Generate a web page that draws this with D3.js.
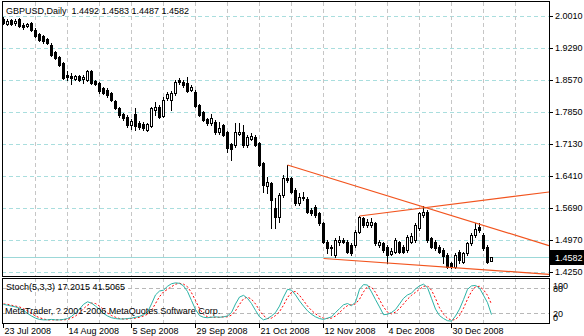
<!DOCTYPE html>
<html>
<head>
<meta charset="utf-8">
<script src="https://cdn.jsdelivr.net/npm/d3@7"></script>
<style>
  html, body { margin: 0; padding: 0; background: #fff; }
  svg { display: block; }
  text { font-family: "Liberation Sans", Arial, sans-serif; font-size: 9px; white-space: pre; }
</style>
</head>
<body>
<svg id="chart" width="584" height="336"></svg>
<script>
// GBPUSD daily candles, one entry per trading day
const symbolName = "GBPUSD,Daily";
const opens = [1.995,1.983,1.992,1.9845,1.9943,1.9815,1.9785,1.9853,1.9703,1.9605,
  1.9553,1.9493,1.9365,1.92,1.908,1.8953,1.869,1.8668,1.86,1.8653,
  1.8585,1.8578,1.8765,1.854,1.8503,1.839,1.8353,1.8278,1.809,1.794,
  1.7805,1.7745,1.7558,1.7798,1.7595,1.7573,1.7445,1.7543,1.7895,1.797,
  1.7768,1.8158,1.812,1.827,1.857,1.8533,1.8495,1.8345,1.8308,1.8008,
  1.7843,1.7693,1.7595,1.7633,1.7393,1.7558,1.7393,1.7123,1.7108,1.7363,
  1.7408,1.7108,1.725,1.7295,1.7145,1.6695,1.6185,1.6245,1.5683,1.5495,
  1.5983,1.6358,1.6358,1.6095,1.5795,1.5908,1.5893,1.5645,1.572,1.557,
  1.5345,1.4933,1.4783,1.4633,1.4933,1.497,1.4933,1.4858,1.4858,1.5158,
  1.5458,1.5308,1.5308,1.5345,1.4858,1.4895,1.482,1.4663,1.4708,1.4918,
  1.482,1.4745,1.4933,1.497,1.5233,1.5533,1.5608,1.5008,1.4933,1.482,
  1.4745,1.4633,1.4445,1.437,1.4708,1.4483,1.467,1.4895,1.5083,1.527,
  1.5083,1.482,1.4492];
const highs = [1.9995,1.9935,1.995,1.9935,1.9965,1.9845,1.986,1.9883,1.9733,1.9635,
  1.9583,1.9523,1.9395,1.923,1.911,1.8983,1.8765,1.872,1.8683,1.869,
  1.8675,1.8788,1.8795,1.857,1.8533,1.842,1.8383,1.8308,1.812,1.797,
  1.7835,1.7775,1.7685,1.7933,1.764,1.7633,1.761,1.797,1.8083,1.8,
  1.818,1.8293,1.8315,1.857,1.8623,1.857,1.8645,1.8458,1.8345,1.8038,
  1.7873,1.7723,1.7798,1.7663,1.7633,1.7588,1.7423,1.7153,1.7595,1.7595,
  1.7558,1.7333,1.737,1.7333,1.7175,1.6725,1.6395,1.6275,1.5908,1.602,
  1.6433,1.6658,1.6395,1.6133,1.602,1.6058,1.593,1.5683,1.5758,1.5608,
  1.5383,1.497,1.4858,1.5008,1.506,1.5008,1.497,1.4895,1.5195,1.551,
  1.5495,1.5435,1.5458,1.5383,1.497,1.4933,1.4858,1.4783,1.5008,1.4955,
  1.4858,1.5083,1.512,1.5345,1.5608,1.5743,1.5645,1.5045,1.497,1.4858,
  1.4783,1.467,1.4483,1.467,1.4745,1.4708,1.4933,1.512,1.5345,1.5345,
  1.512,1.4858,1.4583];
const lows = [1.983,1.9808,1.98,1.9815,1.9755,1.9725,1.9755,1.968,1.953,1.9455,
  1.941,1.938,1.911,1.9035,1.8885,1.8585,1.8578,1.848,1.857,1.8555,
  1.8503,1.8555,1.848,1.845,1.8285,1.8248,1.8195,1.8105,1.791,1.7745,
  1.767,1.752,1.7475,1.7445,1.7475,1.7445,1.7415,1.7513,1.7783,1.7715,
  1.773,1.812,1.7895,1.824,1.848,1.842,1.8293,1.8315,1.7963,1.7753,
  1.764,1.7565,1.7565,1.7363,1.7363,1.7303,1.6958,1.677,1.707,1.7333,
  1.707,1.707,1.722,1.7078,1.6628,1.6058,1.602,1.5233,1.5233,1.5383,
  1.5945,1.6283,1.602,1.5758,1.5758,1.587,1.557,1.5533,1.5495,1.5308,
  1.4895,1.467,1.4633,1.4595,1.4858,1.4895,1.467,1.4633,1.482,1.512,
  1.527,1.527,1.527,1.4858,1.482,1.4708,1.4445,1.4633,1.467,1.467,
  1.467,1.4708,1.4895,1.4933,1.5195,1.5495,1.4933,1.4783,1.4745,1.467,
  1.4445,1.4348,1.4333,1.4333,1.4445,1.4445,1.4633,1.4858,1.5045,1.5158,
  1.4745,1.4445,1.4487];
const closes = [1.9853,1.9905,1.983,1.9905,1.9778,1.977,1.983,1.9703,1.9553,1.9478,
  1.944,1.9403,1.914,1.9065,1.8915,1.8615,1.8645,1.8615,1.8653,1.8578,
  1.8645,1.8765,1.8503,1.848,1.8315,1.8278,1.8225,1.8128,1.794,1.7775,
  1.7715,1.7558,1.7648,1.7543,1.752,1.7498,1.758,1.7933,1.797,1.7745,
  1.812,1.8248,1.827,1.8533,1.8518,1.8458,1.8323,1.842,1.7993,1.7783,
  1.767,1.7595,1.7708,1.7393,1.7498,1.7333,1.7048,1.701,1.7393,1.7393,
  1.7108,1.7295,1.731,1.7108,1.6658,1.6208,1.6283,1.587,1.5495,1.5983,
  1.6358,1.632,1.6058,1.5795,1.5945,1.5945,1.5608,1.557,1.5533,1.5345,
  1.4933,1.4783,1.482,1.497,1.497,1.4933,1.4708,1.467,1.5158,1.548,
  1.5308,1.5383,1.5383,1.4895,1.4933,1.4745,1.4633,1.4723,1.497,1.4708,
  1.4708,1.5045,1.5068,1.5308,1.557,1.5608,1.497,1.482,1.4783,1.4708,
  1.4618,1.437,1.437,1.4633,1.452,1.467,1.4895,1.5083,1.5218,1.5195,
  1.4783,1.4483,1.4582];

// Stochastic oscillator (5,3,3): main and signal lines
const stochMain = [41,39,37,35,32,27,20,14,9,6, 5,5,6,5,5,6,8,13,21,30,
  41,47,44,37,29,20,14,10,8,7, 7,8,9,11,13,17,23,42,63,72,
  74,83,89,91,90,84,71,50,29,15, 11,10,11,12,11,12,14,22,42,58,
  62,55,43,27,12,5,8,14,22,37, 58,76,74,63,49,37,26,18,12,8,
  6,9,12,22,31,40,43,38,46,76, 87,86,70,52,35,17,18,22,29,42,
  55,63,67,77,84,88,80,55,30,15, 8,3,2,14,30,52,76,84,85,79,
  62,45,17.2015];
const stochSignal = [42,41,39,37,35,31,26,20,14,10, 7,5,5,5,5,5,6,9,14,21,
  31,39,44,43,37,29,21,15,11,8, 7,7,8,9,11,14,18,27,43,59,
  70,76,82,88,90,88,82,68,50,31, 18,12,11,11,11,12,12,16,26,41,
  54,58,53,42,27,15,8,9,15,24, 39,57,69,71,62,50,37,27,19,13,
  9,8,9,14,22,31,38,40,42,53, 70,83,81,69,52,35,23,19,23,31,
  42,53,62,69,76,83,84,74,55,33, 18,9,4,6,15,32,53,71,82,83,
  75,62,41.5065];
const stochLevels = [80, 20];
const stochScaleLabels = ["100", "80", "20", "0"];

// Price axis and date axis
const priceTicks = [2.0010, 1.9290, 1.8570, 1.7850, 1.7130, 1.6410, 1.5690, 1.4970, 1.4250];
const dateTickBars = [0, 16, 32, 48, 64, 80, 96, 112];
const dateLabels = ["23 Jul 2008", "14 Aug 2008", "5 Sep 2008", "29 Sep 2008",
  "21 Oct 2008", "12 Nov 2008", "4 Dec 2008", "30 Dec 2008"];

// Trend lines: start point and a second point, drawn as rays to the right
const trendStart = [71, 89, 80];
const trendStartPrice = [1.6658, 1.551, 1.4554];
const trendThrough = [119, 105, 112];
const trendThroughPrice = [1.5328, 1.5692, 1.4352];

const copyright = "MetaTrader, ? 2001-2006 MetaQuotes Software Corp.";

// ---- layout ----
const L = 2, R = 549;
const mainTop = 2, mainBot = 276;
const stTop = 278, stBot = 323;
const last = closes.length - 1;
const fontFam = "\"Liberation Sans\", Arial, sans-serif";

const svg = d3.select("#chart");
const x = d3.scaleLinear().domain([-0.25, 136.5]).range([L, R]);
const y = d3.scaleLinear().domain([1.416, 2.0325]).range([mainBot, mainTop]);
const ys = d3.scaleLinear().domain([0, 100]).range([322, 279]);
const crisp = v => Math.round(v) + 0.5;

svg.append("rect").attr("width", 584).attr("height", 336).attr("fill", "#fff");

const defs = svg.append("defs");
defs.append("clipPath").attr("id", "clipMain").append("rect")
  .attr("x", L + 1).attr("y", mainTop + 1).attr("width", R - L - 1).attr("height", mainBot - mainTop - 1);
defs.append("clipPath").attr("id", "clipStoch").append("rect")
  .attr("x", L + 1).attr("y", stTop + 1).attr("width", R - L - 1).attr("height", stBot - stTop - 1);

// ---- grid ----
const grid = svg.append("g");
grid.selectAll("line.hg").data(priceTicks).join("line")
  .attr("x1", L).attr("x2", R)
  .attr("y1", d => crisp(y(d))).attr("y2", d => crisp(y(d)))
  .attr("stroke", "#a9dede").attr("stroke-dasharray", "4,3");
const vBars = d3.range(8, 136, 8);
grid.selectAll("line.vg").data(vBars).join("line")
  .attr("x1", d => x(d) + 0.5).attr("x2", d => x(d) + 0.5)
  .attr("y1", mainTop).attr("y2", mainBot)
  .attr("stroke", "#c6c6c6").attr("stroke-dasharray", "4,3");
grid.selectAll("line.vs").data(vBars).join("line")
  .attr("x1", d => x(d) + 0.5).attr("x2", d => x(d) + 0.5)
  .attr("y1", stTop).attr("y2", stBot)
  .attr("stroke", "#c6c6c6").attr("stroke-dasharray", "4,3");
grid.selectAll("line.lv").data(stochLevels).join("line")
  .attr("x1", L).attr("x2", R)
  .attr("y1", d => crisp(ys(d))).attr("y2", d => crisp(ys(d)))
  .attr("stroke", "#b8b8b8").attr("stroke-dasharray", "4,3");

// ---- main panel ----
const main = svg.append("g").attr("clip-path", "url(#clipMain)");

// bid line at the last close
main.append("line")
  .attr("x1", L).attr("x2", R)
  .attr("y1", crisp(y(closes[last]))).attr("y2", crisp(y(closes[last])))
  .attr("stroke", "#9cd8d8");

const bars = d3.range(closes.length).map(i => ({
  i, o: opens[i], h: highs[i], l: lows[i], c: closes[i]
}));

const candle = main.selectAll("g.candle").data(bars).join("g");
candle.append("line")
  .attr("x1", d => x(d.i) + 0.5).attr("x2", d => x(d.i) + 0.5)
  .attr("y1", d => Math.round(y(d.h))).attr("y2", d => Math.round(y(d.l)) + 1)
  .attr("stroke", "#000");
candle.each(function(d) {
  const g = d3.select(this);
  const top = Math.round(y(Math.max(d.o, d.c)));
  const bot = Math.round(y(Math.min(d.o, d.c)));
  const cx = x(d.i);
  if (d.c >= d.o) {
    g.append("rect")
      .attr("x", cx - 0.5).attr("y", top + 0.5)
      .attr("width", 2).attr("height", Math.max(bot - top, 1))
      .attr("fill", "#fff").attr("stroke", "#000");
  } else {
    g.append("rect")
      .attr("x", cx - 1).attr("y", top)
      .attr("width", 3).attr("height", Math.max(bot - top + 1, 1))
      .attr("fill", "#000");
  }
});

// trend lines
const xEnd = x.domain()[1];
const trends = trendStart.map((b, k) => {
  const slope = (trendThroughPrice[k] - trendStartPrice[k]) / (trendThrough[k] - b);
  return { b1: b, p1: trendStartPrice[k], b2: xEnd, p2: trendStartPrice[k] + slope * (xEnd - b) };
});
main.selectAll("line.trend").data(trends).join("line")
  .attr("x1", d => x(d.b1) + 0.5).attr("y1", d => y(d.p1))
  .attr("x2", d => x(d.b2)).attr("y2", d => y(d.p2))
  .attr("stroke", "#f2541e").attr("stroke-width", 1.2);

// ---- stochastic panel ----
const st = svg.append("g").attr("clip-path", "url(#clipStoch)");
const stLine = d3.line().x((d, i) => x(i) + 0.5).y(d => ys(d));
st.append("path").datum(stochSignal).attr("d", stLine)
  .attr("fill", "none").attr("stroke", "#ff0000").attr("stroke-dasharray", "2,2");
st.append("path").datum(stochMain).attr("d", stLine)
  .attr("fill", "none").attr("stroke", "#2bb3a6").attr("stroke-width", 1);

// ---- frames ----
svg.append("rect").attr("x", L + 0.5).attr("y", mainTop - 0.5)
  .attr("width", R - L).attr("height", mainBot - mainTop + 1)
  .attr("fill", "none").attr("stroke", "#000");
svg.append("rect").attr("x", L + 0.5).attr("y", stTop + 0.5)
  .attr("width", R - L).attr("height", stBot - stTop)
  .attr("fill", "none").attr("stroke", "#000");

// ---- axes ----
const yAxis = svg.append("g").attr("transform", `translate(${R},0)`)
  .call(d3.axisRight(y).tickValues(priceTicks).tickFormat(d3.format(".4f")).tickSize(4).tickPadding(2));
yAxis.select(".domain").remove();
yAxis.attr("font-family", fontFam).attr("font-size", 9);
yAxis.selectAll("line").attr("stroke", "#000");
yAxis.selectAll("text").attr("fill", "#000");

const xAxis = svg.append("g").attr("transform", `translate(0,${stBot})`)
  .call(d3.axisBottom(x).tickValues(dateTickBars).tickFormat((d, i) => dateLabels[i]).tickSize(5).tickPadding(0));
xAxis.select(".domain").remove();
xAxis.attr("font-family", fontFam).attr("font-size", 9);
xAxis.selectAll("line").attr("stroke", "#000");
xAxis.selectAll("text").attr("text-anchor", "start").attr("x", 1).attr("y", 5).attr("fill", "#000");

// current price tag
const bidY = Math.round(y(closes[last]));
svg.append("rect").attr("x", R + 1).attr("y", bidY - 7).attr("width", 584 - R - 1).attr("height", 15).attr("fill", "#000");
svg.append("text").attr("x", R + 6).attr("y", bidY + 4).attr("fill", "#fff")
  .text(d3.format(".4f")(closes[last]));

// stochastic scale labels (100/80 and 20/0 share the cramped space, as on the terminal)
const stLabelY = [ys(100) + 10, ys(80) + 4, ys(20) + 4, ys(0) - 1];
svg.selectAll("text.stl").data(stochScaleLabels).join("text")
  .attr("x", R + 4).attr("y", (d, i) => stLabelY[i]).attr("fill", "#000").text(d => d);

// ---- captions ----
const f4 = d3.format(".4f");
svg.append("text").attr("x", 6).attr("y", 14).attr("fill", "#000")
  .text(`${symbolName}  ${f4(opens[last])} ${f4(highs[last])} ${f4(lows[last])} ${f4(closes[last])}`);
svg.append("text").attr("x", 6).attr("y", 290).attr("fill", "#000")
  .text(`Stoch(5,3,3) ${f4(stochMain[last])} ${f4(stochSignal[last])}`);
svg.append("text").attr("x", 5).attr("y", 314).attr("fill", "#000").text(copyright);
</script>
</body>
</html>
